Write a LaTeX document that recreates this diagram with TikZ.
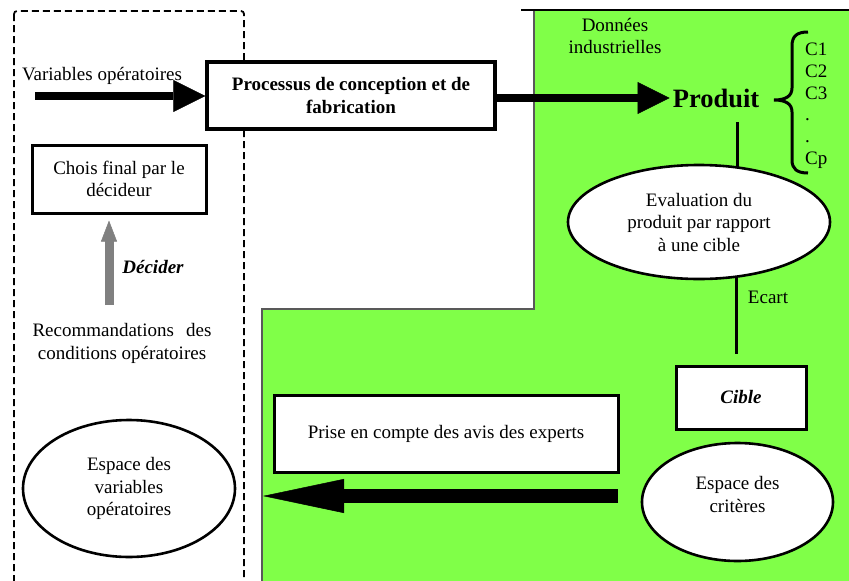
\documentclass[tikz,border=0pt]{standalone}
\usepackage{fontspec}
\setmainfont{Liberation Serif}
\usetikzlibrary{arrows.meta,shapes.geometric}
\definecolor{fieldgreen}{RGB}{128,255,72}
\definecolor{arrowgray}{RGB}{128,128,128}
\pgfdeclarelayer{bg}
\pgfdeclarelayer{lines}
\pgfsetlayers{bg,lines,main}
\tikzset{
  txt/.style={font=\fontsize{19}{22.5}\selectfont, align=center, inner sep=0pt},
  boldtxt/.style={txt, font=\fontsize{19}{22.5}\selectfont\bfseries},
  framebox/.style={draw, line width=3pt, fill=white},
  oval/.style={ellipse, draw, line width=2.6pt, fill=white, inner sep=0pt},
  bigarrow/.style={line width=8pt, -{Triangle[length=32pt,width=32pt,line width=0.5pt]}},
  link/.style={line width=3pt},
}
\begin{document}
\begin{tikzpicture}[x=1pt,y=-1pt]
\useasboundingbox (0,0) rectangle (849,581);
\clip (0,0) rectangle (849,581);

% green field and the dashed decision frame
\begin{pgfonlayer}{bg}
  \fill[fieldgreen] (534,10) -- (849,10) -- (849,581) -- (262,581) -- (262,309) -- (534,309) -- cycle;
  \draw[line width=1.2pt, black!65] (534,10) -- (534,309) -- (262,309) -- (262,590);
  \draw[line width=1.2pt] (521,10) -- (849,10);
  \draw[line width=1.8pt, dash pattern=on 7pt off 4pt, rounded corners=3pt] (14,11) rectangle (244,600);
\end{pgfonlayer}

% top row
\node[txt] (varlbl) at (102,75.5) {Variables opératoires};
\node[boldtxt, framebox, line width=3.3pt, minimum width=288pt, minimum height=67pt] (proc) at (351,95.5)
  {Processus de conception et de\\fabrication};
\node[txt] (donnees) at (615,36) {Données\\industrielles};
\node[txt, font=\fontsize{26.5}{30}\selectfont\bfseries, inner sep=3pt] (prod) at (716,98) {Produit};

% criteria list with its brace
\draw[line width=3pt] (808,32) .. controls (797,32) and (792,36) .. (792,46) -- (792,88)
  .. controls (792,96) and (786,100) .. (774,100)
  .. controls (786,100) and (792,104) .. (792,112) -- (792,160)
  .. controls (792,169) and (797,173) .. (808,173);
\node[txt, anchor=base west] (c1) at (805,55) {C1};
\node[txt, anchor=base west] (c2) at (805,77) {C2};
\node[txt, anchor=base west] (c3) at (805,99) {C3};
\node[txt, anchor=base west] (d1) at (805,120.5) {.};
\node[txt, anchor=base west] (d2) at (805,142) {.};
\node[txt, anchor=base west] (cp) at (805,164) {Cp};

% evaluation chain
\node[txt, oval, minimum width=262pt, minimum height=114pt] (eval) at (699,222)
  {Evaluation du\\produit par rapport\\à une cible};
\node[txt] (ecart) at (768,297.5) {Ecart};
\node[txt, font=\fontsize{19}{22.5}\selectfont\bfseries\itshape, framebox,
  minimum width=130pt, minimum height=63pt] (cible) at (741,397.5) {Cible};
\node[oval, minimum width=191pt, minimum height=118pt] (crit) at (737.5,502) {};
\node[txt] (crittxt) at (737.5,494.5) {Espace des\\critères};
\node[txt, framebox, minimum width=344pt, minimum height=77pt] (prise) at (446,433.5)
  {Prise en compte des avis des experts};

% decision side
\node[txt, framebox, minimum width=174pt, minimum height=68pt] (chois) at (119,179)
  {Chois final par le\\décideur};
\node[txt, font=\fontsize{19}{22.5}\selectfont\bfseries\itshape] (decider) at (153,267) {Décider};
\node[txt] (reco) at (122,343.5)
  {\makebox[179pt][s]{Recommandations des}\\conditions opératoires};
\node[txt, oval, minimum width=212pt, minimum height=137pt] (espvar) at (129,488.5)
  {Espace des\\variables\\opératoires};

% connectors
\coordinate (varstart) at (35,96);
\coordinate (prodstart) at (497,98);
\coordinate (pline) at (737,122);
\coordinate (ecend) at (736,354);
\coordinate (recotop) at (109,305);
\coordinate (retstart) at (618,496);
\coordinate (retend) at (263,496);

\begin{pgfonlayer}{lines}
  \draw[link] (pline) -- (pline |- eval.center);
  \draw[link] (ecend |- eval.center) -- (ecend);
\end{pgfonlayer}

\draw[bigarrow] (varstart) -- (varstart -| proc.west);
\draw[bigarrow] (prodstart) -- (prodstart -| prod.west);
\draw[line width=9pt, arrowgray, -{Triangle[length=21pt,width=16pt,line width=0.5pt]}, shorten >=6pt]
  (recotop) -- (recotop |- chois.south);
\draw[line width=14pt, -{Triangle[length=81pt,width=34pt,line width=0.5pt]}] (retstart) -- (retend);
\end{tikzpicture}
\end{document}
